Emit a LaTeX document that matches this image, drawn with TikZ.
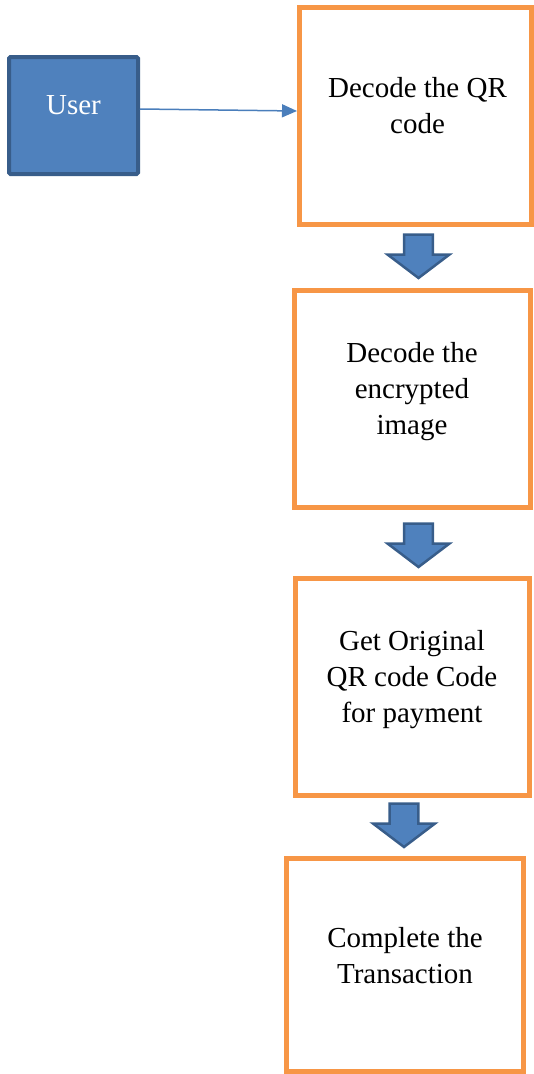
\documentclass[tikz,border=0pt]{standalone}
\usepackage{fontspec}
\setmainfont{Liberation Serif}
\usetikzlibrary{arrows.meta}
\definecolor{boxorange}{HTML}{F79646}
\definecolor{userfill}{HTML}{4F81BD}
\definecolor{userline}{HTML}{385D8A}
\definecolor{linkblue}{HTML}{4A7EBB}
\tikzset{
  procbox/.style={draw=boxorange, line width=5pt, fill=white, inner sep=0pt, minimum height=217pt},
  userbox/.style={draw=userline, fill=userfill, line width=4pt, rounded corners=1.5pt, inner sep=0pt},
  boxtext/.style={align=center, font=\fontsize{29}{36}\selectfont, inner sep=0pt},
  link/.style={draw=linkblue, line width=1.5pt, -{Triangle[length=15pt,width=13pt]}},
  blockarrow/.style={draw=userline, fill=userfill, line width=2.5pt, line join=miter}
}
\newcommand{\qrdownarrow}[2]{%
  \draw[blockarrow] ([shift={(#1,#2)}]-14.3,0) -- ([shift={(#1,#2)}]14.3,0)
    -- ([shift={(#1,#2)}]14.3,20) -- ([shift={(#1,#2)}]31,20)
    -- ([shift={(#1,#2)}]0,43.5) -- ([shift={(#1,#2)}]-31,20)
    -- ([shift={(#1,#2)}]-14.3,20) -- cycle;}
\begin{document}
\begin{tikzpicture}[x=1pt, y=-1pt]
\useasboundingbox (0,0) rectangle (534,1074);
% user
\node[userbox, minimum width=129pt, minimum height=117pt] (user) at (73.5,115.5) {};
\node[boxtext, text=white] (usertext) at (73.5,105) {User};
% process boxes
\node[procbox, minimum width=232pt] (b1) at (415.5,116) {};
\node[boxtext] (t1) at (417.5,106) {Decode the QR\\code};
\node[procbox, minimum width=236pt] (b2) at (412.5,399) {};
\node[boxtext] (t2) at (412,392) {Decode the\\encrypted\\image};
\node[procbox, minimum width=234pt] (b3) at (412.5,687) {};
\node[boxtext] (t3) at (412,680) {Get Original\\QR code Code\\for payment};
\node[procbox, minimum width=237pt, minimum height=213pt] (b4) at (405,965) {};
\node[boxtext] (t4) at (405,956) {Complete the\\Transaction};
% connector
\draw[link] ([yshift=6.5pt]user.east) -- ([yshift=5pt]b1.west);
% block arrows
\qrdownarrow{418.5}{234.5}
\qrdownarrow{418.5}{523.5}
\qrdownarrow{404}{803.5}
\end{tikzpicture}
\end{document}
